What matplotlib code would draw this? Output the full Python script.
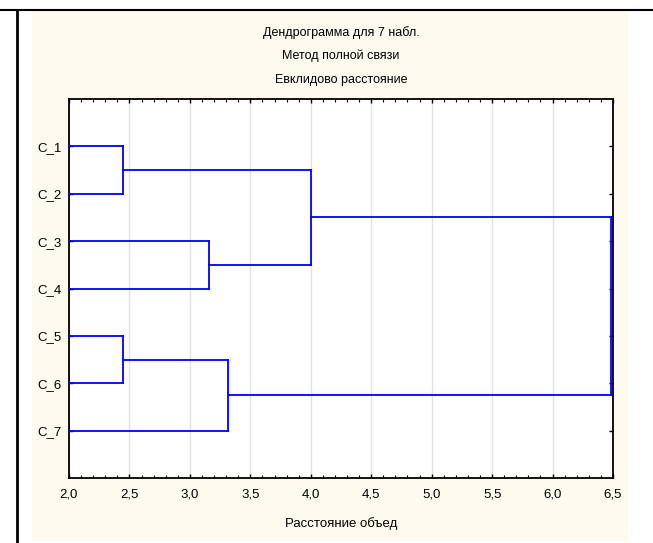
import numpy as np
import matplotlib
matplotlib.use('Agg')
from matplotlib import pyplot as plt
from matplotlib.ticker import MultipleLocator, FuncFormatter
from matplotlib.patches import Rectangle
from matplotlib.lines import Line2D

plt.rcParams['font.family'] = ['Liberation Sans', 'DejaVu Sans']

# data
labels = ['C_1', 'C_2', 'C_3', 'C_4', 'C_5', 'C_6', 'C_7']
# merges: (left node, right node, distance); nodes 0..6 are leaves, 7.. new clusters
merge_a = [0, 2, 4, 9, 7, 11]
merge_b = [1, 3, 5, 6, 8, 10]
merge_h = [2.449, 3.162, 2.449, 3.317, 4.0, 6.481]
title_lines = ['Дендрограмма для 7 набл.', 'Метод полной связи',
               'Евклидово расстояние']
xlabel = 'Расстояние объед'
xmin, xmax = 2.0, 6.5

# prepare figure
W, H = 653, 543
fig = plt.figure(figsize=(W/100.0, H/100.0), dpi=100)
fig.patch.set_facecolor('white')

# cream panel and frame lines
fig.patches.append(Rectangle((32/W, 2/H), 596/W, (531)/H, transform=fig.transFigure,
                             facecolor='#fffaf0', edgecolor='none', zorder=-5))
fig.lines.append(Line2D([0, 1], [1 - 10/H, 1 - 10/H], transform=fig.transFigure,
                        color='k', lw=1.5))
fig.lines.append(Line2D([17/W, 17/W], [0, 1 - 10/H], transform=fig.transFigure,
                        color='k', lw=2))

ax = fig.add_axes([69/W, (H-478)/H, (613-69)/W, (478-99)/H])
ax.set_facecolor('white')
ax.set_xlim(xmin, xmax)
ax.set_ylim(len(labels) + 1, 0)

# dendrogram from merges
nx = {i: xmin for i in range(len(labels))}
ny = {i: i + 1.0 for i in range(len(labels))}
for k, (a, b, h) in enumerate(zip(merge_a, merge_b, merge_h)):
    node = len(labels) + k
    for c in (a, b):
        ax.plot([nx[c], h], [ny[c], ny[c]], color='#0000ff', lw=1.3,
                solid_capstyle='projecting', zorder=3, clip_on=False)
    ax.plot([h, h], [ny[a], ny[b]], color='#0000ff', lw=1.3,
            solid_capstyle='projecting', zorder=3, clip_on=False)
    nx[node] = h
    ny[node] = (ny[a] + ny[b]) / 2.0

# axes style
for s in ax.spines.values():
    s.set_linewidth(1.3)
ax.xaxis.set_major_locator(MultipleLocator(0.5))
ax.xaxis.set_minor_locator(MultipleLocator(0.1))
ax.xaxis.set_major_formatter(FuncFormatter(lambda v, p: ('%.1f' % v).replace('.', ',')))
ax.set_yticks(range(1, len(labels) + 1))
ax.set_yticklabels(labels)
ax.tick_params(axis='x', which='major', direction='in', top=True, length=3,
               width=1, pad=7.5, labelsize=9.5)
ax.tick_params(axis='x', which='minor', direction='in', top=True, length=2, width=0.8)
ax.tick_params(axis='y', direction='in', right=True, length=3, width=1, pad=5,
               labelsize=9.5)
ax.grid(axis='x', which='major', color='#e2e2e2', lw=1)
ax.set_axisbelow(True)
ax.set_xlabel(xlabel, fontsize=9.5, labelpad=12)

# title
for t, y in zip(title_lines, [33, 56, 80]):
    fig.text(341/W, 1 - y/H, t, ha='center', va='center', fontsize=9)

fig.savefig('out.png', dpi=100)
